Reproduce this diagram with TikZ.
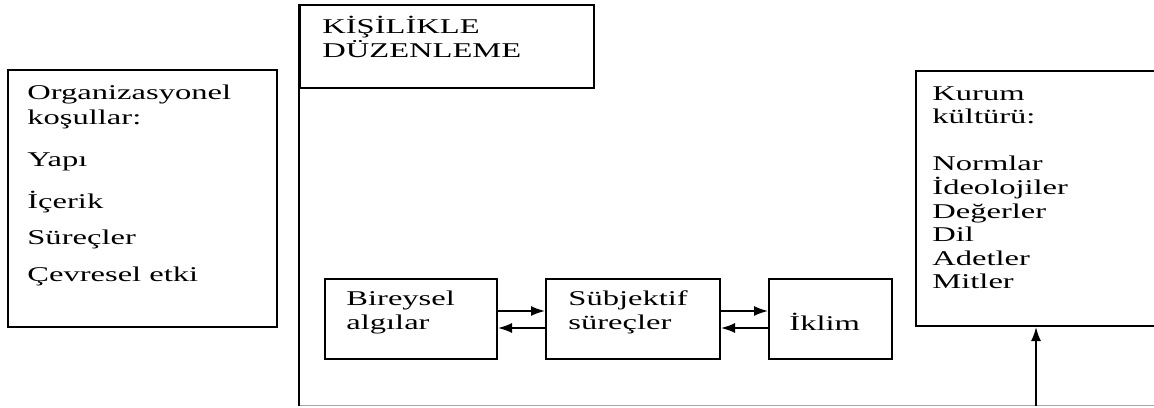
\documentclass[tikz,border=0pt]{standalone}
\usepackage{fontspec}
\setmainfont{Liberation Serif}[FakeStretch=1.55]
\usetikzlibrary{positioning, arrows.meta}

\begin{document}
\begin{tikzpicture}[node distance=23.5pt,
  box/.style={draw, line width=1pt, inner sep=0pt},
  txt/.style={align=left, inner sep=0pt, anchor=north west, font=\fontsize{10.5}{12}\selectfont},
  arr/.style={-{Latex[length=7pt,width=5pt]}, line width=0.85pt}]
  \useasboundingbox (0,0) rectangle (577pt,203.5pt);
  % organizational conditions
  \node[box, minimum width=134.5pt, minimum height=128.5pt] (org) at (71.25pt,104.25pt) {};
  \node[txt] (orgtxt) at ([shift={(10pt,-8pt)}]org.north west) {Organizasyonel\\[0.5pt] koşullar:\\[9pt] Yapı\\[9pt] İçerik\\[6pt] Süreçler\\[6.5pt] Çevresel etki};
  % personality frame
  \node[box, minimum width=147pt, minimum height=41.5pt] (kis) at (223.5pt,180.25pt) {};
  \node[txt] (kistxt) at ([shift={(11.5pt,-6pt)}]kis.north west) {KİŞİLİKLE\\ DÜZENLEME};
  \coordinate (fbl) at (150pt,0.75pt);
  \coordinate (fbr) at (600pt,0.75pt);
  \draw[line width=1.4pt] (kis.north west) -- (kis.north west |- fbl);
  \draw[gray!70, line width=0.8pt] (fbl) -- (fbr);
  % inner chain
  \node[box, minimum width=86pt, minimum height=40pt] (bir) at (205.5pt,44pt) {};
  \node[box, minimum width=87pt, minimum height=40pt, right=of bir] (sub) {};
  \node[box, minimum width=61.5pt, minimum height=40pt, right=of sub] (ikl) {};
  \node[txt] (birtxt) at ([shift={(11pt,-6.5pt)}]bir.north west) {Bireysel\\ algılar};
  \node[txt] (subtxt) at ([shift={(11.5pt,-6pt)}]sub.north west) {Sübjektif\\ süreçler};
  \node[txt] (ikltxt) at ([shift={(10.5pt,-17.5pt)}]ikl.north west) {İklim};
  \draw[arr] ([yshift=4pt]bir.east) -- ([yshift=4pt]sub.west);
  \draw[arr] ([yshift=-4.5pt]sub.west) -- ([yshift=-4.5pt]bir.east);
  \draw[arr] ([yshift=4pt]sub.east) -- ([yshift=4pt]ikl.west);
  \draw[arr] ([yshift=-4.5pt]ikl.west) -- ([yshift=-4.5pt]sub.east);
  % corporate culture
  \node[box, minimum width=140pt, minimum height=127.5pt] (kur) at (528pt,104.25pt) {};
  \node[txt, font=\fontsize{10.5}{11.8}\selectfont] (kurtxt) at ([shift={(8.5pt,-8pt)}]kur.north west) {Kurum\\ kültürü:\\[11.8pt] Normlar\\ İdeolojiler\\ Değerler\\ Dil\\ Adetler\\ Mitler};
  \coordinate (cup) at (518pt,0.75pt);
  \draw[arr] (cup) -- (cup |- kur.south);
\end{tikzpicture}
\end{document}
